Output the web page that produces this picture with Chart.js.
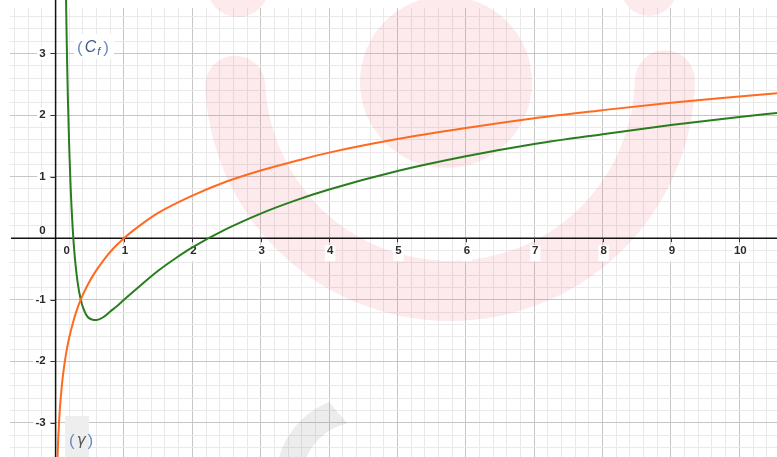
<!DOCTYPE html>
<html>
<head>
<meta charset="utf-8">
<script src="https://cdn.jsdelivr.net/npm/chart.js@4/dist/chart.umd.min.js"></script>
<style>
  html, body { margin: 0; padding: 0; background: #fff; overflow: hidden; }
  canvas { display: block; }
</style>
</head>
<body>
<canvas id="plot" width="777" height="457"></canvas>
<script>
// Curve (γ): sampled points
const gammaX = [0.028, 0.032, 0.04, 0.05, 0.06, 0.08, 0.1, 0.13, 0.16, 0.2, 0.25, 0.3, 0.37, 0.45, 0.55, 0.7, 0.85, 1, 1.25, 1.5, 2, 2.5, 3, 3.5, 4, 5, 6, 7, 8, 9, 10, 10.6];
const gammaY = [-3.58, -3.44, -3.22, -3.0, -2.81, -2.53, -2.3, -2.04, -1.83, -1.61, -1.39, -1.2, -0.99, -0.8, -0.6, -0.36, -0.16, 0, 0.22, 0.41, 0.69, 0.92, 1.1, 1.25, 1.39, 1.61, 1.79, 1.95, 2.08, 2.2, 2.3, 2.36];

// Curve (C_f): sampled points
const cfX = [0.14, 0.15, 0.16, 0.17, 0.18, 0.2, 0.22, 0.25, 0.28, 0.32, 0.37, 0.42, 0.47, 0.53, 0.6, 0.7, 0.8, 0.9, 1, 1.25, 1.5, 1.75, 2, 2.5, 3, 3.5, 4, 5, 6, 7, 8, 9, 10, 10.6];
const cfY = [4.93, 4.08, 3.37, 2.77, 2.26, 1.44, 0.82, 0.16, -0.3, -0.7, -1.01, -1.18, -1.28, -1.32, -1.33, -1.28, -1.19, -1.1, -1.0, -0.76, -0.53, -0.33, -0.15, 0.15, 0.4, 0.61, 0.79, 1.09, 1.33, 1.53, 1.69, 1.84, 1.97, 2.04];

// Axis labels
const xTickLabels = [0, 1, 2, 3, 4, 5, 6, 7, 8, 9, 10];
const yTickLabels = [-3, -2, -1, 0, 1, 2, 3];

// Visible window and grid spacing
const xRange = [-0.667, 10.551];
const yRange = [-3.554, 3.739];
const gridStep = 0.2;

const AXIS_FONT = 'bold 11.5px "Liberation Sans", Arial, sans-serif';
const LABEL_BLUE = '#6a8cc0';
const LABEL_DARK = '#3d5a8a';

function gridValues(lo, hi) {
  const out = [];
  const start = Math.ceil(lo / gridStep - 1e-9);
  const end = Math.floor(hi / gridStep + 1e-9);
  for (let k = start; k <= end; k++) out.push(+(k * gridStep).toFixed(6));
  return out;
}
const isInt = v => Math.abs(v - Math.round(v)) < 1e-6;

function gridColor(ctx) {
  const v = ctx.tick ? ctx.tick.value : NaN;
  if (Math.abs(v) < 1e-6) return 'rgba(0,0,0,0)';
  return isInt(v) ? '#c6c6c6' : '#e9e9e9';
}

const toPoints = (xs, ys) => xs.map((x, i) => ({ x, y: ys[i] }));

// Background, faint logo, axes, ticks and labels
const decor = {
  id: 'decor',
  beforeDraw(chart) {
    const ctx = chart.ctx;
    ctx.save();
    ctx.fillStyle = '#fff';
    ctx.fillRect(0, 0, chart.width, chart.height);
    ctx.restore();
  },
  beforeDatasetsDraw(chart) {
    const { ctx } = chart;
    const xs = chart.scales.x, ys = chart.scales.y;
    const x0 = xs.getPixelForValue(0);
    const y0 = ys.getPixelForValue(0);

    ctx.save();
    // faint pink logo
    ctx.fillStyle = 'rgba(240,80,100,0.12)';
    ctx.strokeStyle = 'rgba(240,80,100,0.12)';
    const disc = (cx, cy, r) => { ctx.beginPath(); ctx.arc(cx, cy, r, 0, Math.PI * 2); ctx.fill(); };
    disc(238, -14, 31);
    disc(649, -12, 28);
    disc(446, 82, 86);
    ctx.lineWidth = 60;
    ctx.lineCap = 'round';
    ctx.beginPath();
    ctx.arc(450, 76, 215, 0.02, Math.PI - 0.045, false);
    ctx.stroke();

    // faint grey logo pieces
    ctx.fillStyle = 'rgba(120,120,120,0.14)';
    ctx.beginPath();
    ctx.arc(360, 480, 84, -1.95, -Math.PI - 0.4, true);
    ctx.arc(360, 480, 58, -Math.PI - 0.4, -1.79, false);
    ctx.closePath();
    ctx.fill();
    ctx.fillStyle = '#eeeeee';
    ctx.fillRect(65, 416, 24, 41);

    // axes
    ctx.strokeStyle = '#111';
    ctx.lineWidth = 1.5;
    ctx.lineCap = 'butt';
    ctx.beginPath();
    ctx.moveTo(chart.chartArea.left + 1, y0);
    ctx.lineTo(chart.chartArea.right, y0);
    ctx.moveTo(x0, 0);
    ctx.lineTo(x0, chart.height);
    ctx.stroke();

    ctx.font = AXIS_FONT;
    ctx.textBaseline = 'middle';

    // x labels with white backing
    xTickLabels.forEach(v => {
      const px = xs.getPixelForValue(v);
      const txt = String(v);
      const w = ctx.measureText(txt).width;
      const cx = v === 0 ? x0 + 11 : px + 1;
      ctx.fillStyle = '#fff';
      ctx.fillRect(cx - w / 2 - 2, y0 + 7, w + 4, 16);
      if (v !== 0) {
        ctx.strokeStyle = '#333';
        ctx.lineWidth = 1;
        ctx.beginPath();
        ctx.moveTo(Math.round(px) + 0.5, y0);
        ctx.lineTo(Math.round(px) + 0.5, y0 + 4);
        ctx.stroke();
      }
      ctx.fillStyle = '#2a2a2a';
      ctx.textAlign = 'center';
      ctx.fillText(txt, cx, y0 + 13);
    });

    // y labels with white backing
    yTickLabels.forEach(v => {
      const py = ys.getPixelForValue(v);
      const txt = String(v);
      const w = ctx.measureText(txt).width;
      const right = x0 - 10;
      const cy = v === 0 ? y0 - 7 : py;
      if (v !== 0) {
        ctx.fillStyle = '#fff';
        ctx.fillRect(right - w - 2, py - 7, x0 - 6 - (right - w - 2), 14);
        ctx.strokeStyle = '#333';
        ctx.lineWidth = 1;
        ctx.beginPath();
        ctx.moveTo(x0 - 5, Math.round(py) + 0.5);
        ctx.lineTo(x0, Math.round(py) + 0.5);
        ctx.stroke();
      }
      ctx.fillStyle = '#2a2a2a';
      ctx.textAlign = 'right';
      ctx.fillText(txt, right, cy);
    });

    // curve names
    ctx.textAlign = 'left';
    ctx.textBaseline = 'alphabetic';
    ctx.fillStyle = '#fff';
    ctx.fillRect(74, 34, 40, 25);
    let tx = 77;
    const piece = (txt, font, color, base) => {
      ctx.font = font;
      ctx.fillStyle = color;
      ctx.fillText(txt, tx, base);
      tx += ctx.measureText(txt).width;
    };
    piece('(', '17px "Liberation Sans", sans-serif', LABEL_BLUE, 53);
    tx += 2;
    piece('C', 'italic 16px "Liberation Sans", sans-serif', LABEL_DARK, 52);
    tx += 1;
    piece('f', 'italic 11px "Liberation Sans", sans-serif', LABEL_DARK, 55);
    tx += 3;
    piece(')', '17px "Liberation Sans", sans-serif', LABEL_BLUE, 53);

    tx = 69;
    piece('(', '17px "Liberation Sans", sans-serif', LABEL_BLUE, 446);
    tx += 2;
    piece('γ', 'italic 15px "DejaVu Sans", sans-serif', '#555', 445);
    tx += 2;
    piece(')', '17px "Liberation Sans", sans-serif', LABEL_BLUE, 446);
    ctx.restore();
  }
};

new Chart(document.getElementById('plot'), {
  type: 'line',
  data: {
    datasets: [
      {
        label: '(γ)',
        data: toPoints(gammaX, gammaY),
        borderColor: '#ff6a1f',
        borderWidth: 2,
        pointRadius: 0,
        cubicInterpolationMode: 'monotone',
        clip: { left: 10, top: 8, right: 0, bottom: 0 }
      },
      {
        label: '(Cf)',
        data: toPoints(cfX, cfY),
        borderColor: '#2a7d1f',
        borderWidth: 2,
        pointRadius: 0,
        cubicInterpolationMode: 'monotone',
        clip: { left: 10, top: 8, right: 0, bottom: 0 }
      }
    ]
  },
  options: {
    responsive: false,
    animation: false,
    devicePixelRatio: 1,
    layout: { padding: { left: 10, top: 8, right: 0, bottom: 0 } },
    plugins: { legend: { display: false }, tooltip: { enabled: false }, title: { display: false } },
    scales: {
      x: {
        type: 'linear',
        min: xRange[0],
        max: xRange[1],
        afterBuildTicks: s => { s.ticks = gridValues(xRange[0], xRange[1]).map(value => ({ value })); },
        afterFit: s => { s.height = 0; },
        ticks: { display: false },
        border: { display: false },
        grid: { drawTicks: false, color: gridColor, lineWidth: 1 }
      },
      y: {
        type: 'linear',
        min: yRange[0],
        max: yRange[1],
        afterBuildTicks: s => { s.ticks = gridValues(yRange[0], yRange[1]).map(value => ({ value })); },
        afterFit: s => { s.width = 0; },
        ticks: { display: false },
        border: { display: false },
        grid: { drawTicks: false, color: gridColor, lineWidth: 1 }
      }
    }
  },
  plugins: [decor]
});
</script>
</body>
</html>
